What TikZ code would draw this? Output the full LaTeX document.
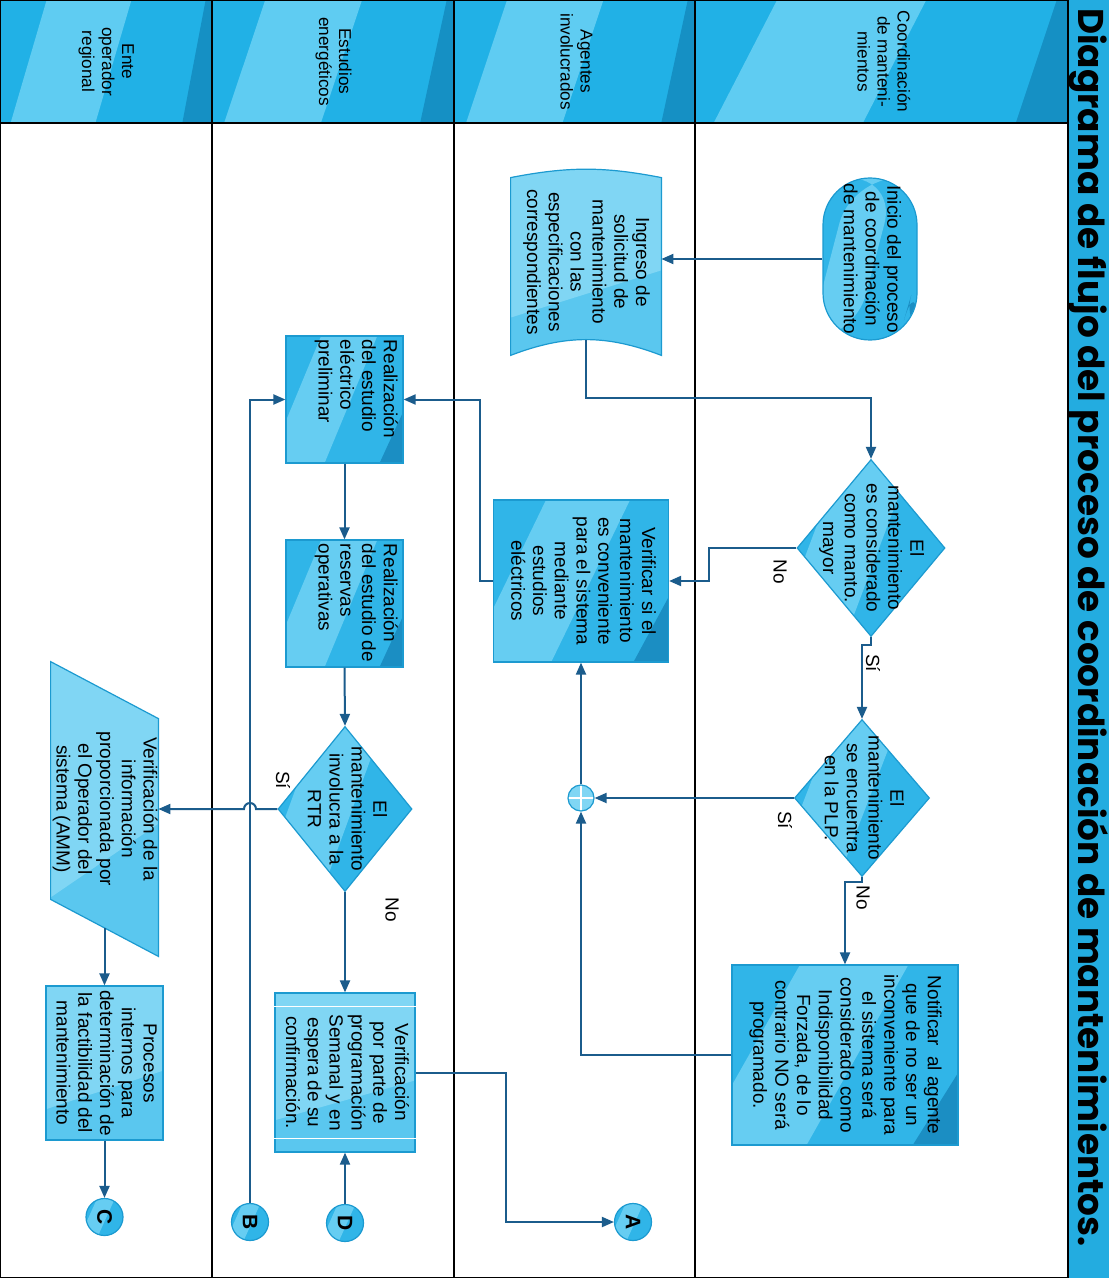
\documentclass[tikz,border=0pt]{standalone}
\usepackage{fontspec}
\setmainfont{Liberation Sans}
\newfontfamily\titlefont{Poppins}
\usetikzlibrary{arrows.meta,calc,shapes.geometric}

\definecolor{titlecyan}{HTML}{23ACE0}
\definecolor{lanecyan}{HTML}{21B1E6}
\definecolor{lanelight}{HTML}{5FCCF2}
\definecolor{lanedark}{HTML}{1590C4}
\definecolor{boxcyan}{HTML}{30B5E8}
\definecolor{boxlight}{HTML}{66CDF2}
\definecolor{boxdark}{HTML}{1B8EC3}
\definecolor{flatcyan}{HTML}{5AC7EF}
\definecolor{flatlight}{HTML}{80D6F4}
\definecolor{boxline}{HTML}{1C9AD0}
\definecolor{flowline}{HTML}{1B5C8C}

\newcommand{\vlines}[1]{\rotatebox{-90}{\begin{tabular}{@{}c@{}}#1\end{tabular}}}
\newcommand{\vlinesl}[1]{\rotatebox{-90}{\begin{tabular}{@{}l@{}}#1\end{tabular}}}

\tikzset{
  glossbox/.style={draw=boxline, line width=0.6pt, fill=boxcyan,
    path picture={
      \coordinate (tl) at (path picture bounding box.north west);
      \coordinate (tr) at (path picture bounding box.north east);
      \coordinate (bl) at (path picture bounding box.south west);
      \coordinate (br) at (path picture bounding box.south east);
      \fill[boxlight] ($(tl)!0.30!(tr)$) -- ($(tl)!0.78!(tr)$) -- ($(bl)!0.33!(br)$) -- ($(bl)!-0.15!(br)$) -- cycle;
      \fill[boxdark] ($(bl)!0.80!(br)$) -- (br) -- ($(br)!0.40!(tr)$) -- cycle;
    }},
  glossflat/.style={draw=boxline, line width=0.6pt, fill=flatcyan,
    path picture={
      \coordinate (tl) at (path picture bounding box.north west);
      \coordinate (tr) at (path picture bounding box.north east);
      \coordinate (bl) at (path picture bounding box.south west);
      \coordinate (br) at (path picture bounding box.south east);
      \fill[flatlight] (tl) -- (tr) -- ($(tr)!0.55!(br)$) -- ($(tl)!0.80!(bl)$) -- cycle;
    }},
  lanehead/.style={rectangle, minimum height=61.5pt, fill=lanecyan, font=\fontsize{8.6}{10}\selectfont,
    path picture={
      \coordinate (tl) at (path picture bounding box.north west);
      \coordinate (tr) at (path picture bounding box.north east);
      \coordinate (bl) at (path picture bounding box.south west);
      \coordinate (br) at (path picture bounding box.south east);
      \fill[lanelight] ($(tl)!0.22!(tr)$) -- ($(tl)!0.62!(tr)$) -- ($(bl)!0.45!(br)$) -- ($(bl)!0.05!(br)$) -- cycle;
      \fill[lanedark] ($(tl)!0.97!(tr)$) -- (tr) -- (br) -- ($(bl)!0.86!(br)$) -- cycle;
    }},
  conector/.style={circle, glossbox, minimum size=18.5pt, font=\bfseries\fontsize{10.5}{12}\selectfont},
  junction/.style={circle, draw=boxline, line width=0.6pt, fill=flatlight, minimum size=13pt,
    path picture={
      \draw[white, line width=1.2pt] (path picture bounding box.north) -- (path picture bounding box.south)
        (path picture bounding box.west) -- (path picture bounding box.east);
    }},
  flow/.style={draw=flowline, line width=1pt, -{Triangle[length=6pt, width=5pt]}},
  lane/.style={draw=black, line width=0.8pt}
}

\begin{document}
\begin{tikzpicture}[x=0.5pt, y=-0.5pt,
  every node/.style={font=\fontsize{9.5}{10.9}\selectfont, inner sep=0pt}]
  \useasboundingbox (0,0) rectangle (1109,1278);
  \fill[white] (0,0) rectangle (1109,1278);

  % titulo
  \fill[titlecyan] (1068,0) rectangle (1109,1278);
  \node[anchor=north] (titulo) at (1088.5,8) {\rotatebox{-90}{\titlefont\bfseries\fontsize{17.9}{20}\selectfont Diagrama de flujo del proceso de coordinación de mantenimientos.}};

  % carriles
  \node[lanehead, minimum width=106pt] (hente) at (106,61.5) {\vlines{Ente\\operador\\regional}};
  \node[lanehead, minimum width=121pt] (hestudios) at (333,61.5) {\vlines{Estudios\\energéticos}};
  \node[lanehead, minimum width=120.5pt] (hagentes) at (574.5,61.5) {\vlines{Agentes\\involucrados}};
  \node[lanehead, minimum width=186.5pt] (hcoord) at (881.5,61.5) {\vlines{Coordinación\\de manteni-\\mientos}};
  \draw[lane] (0,0) rectangle (1068,1278);
  \draw[lane] (0,123) -- (1068,123);
  \draw[lane] (212,0) -- (212,1278) (454,0) -- (454,1278) (695,0) -- (695,1278);

  % coordinacion de mantenimientos
  \node[glossbox, rounded corners=23.5pt, minimum width=47pt, minimum height=81pt] (inicio) at (870,259) {\vlines{Inicio del proceso\\de coordinación\\de mantenimiento}};
  \node[glossbox, diamond, minimum width=74pt, minimum height=88.5pt,
    label={center:\vlines{El\\mantenimiento\\es considerado\\como manto.\\mayor}}] (decmayor) at (871,548) {};
  \node[glossbox, diamond, minimum width=67.5pt, minimum height=78.5pt,
    label={center:\vlines{El\\mantenimiento\\se encuentra\\en la PLP.}}] (decplp) at (862,798) {};
  \node[glossbox, minimum width=113pt, minimum height=90pt] (notificar) at (845,1055) {\vlines{Notificar~~al agente\\que de no ser un\\inconveniente para\\el sistema será\\considerado como\\Indisponibilidad\\Forzada, de lo\\contrario NO será\\programado.}};

  % agentes involucrados
  \node[minimum width=75pt, minimum height=88.5pt] (ingreso) at (586,266.5) {};
  \path[glossflat] (ingreso.north west) to[bend left=11] (ingreso.north east) -- (ingreso.south east)
    to[bend right=21] (ingreso.south west) -- cycle;
  \node (ingresotexto) at (586,262) {\vlines{Ingreso de\\solicitud de\\mantenimiento\\con las\\especificaciones\\correspondientes}};
  \node[glossbox, minimum width=87.5pt, minimum height=81pt] (verificar) at (581,581) {\vlines{Verificar si el\\mantenimiento\\es conveniente\\para el sistema\\mediante\\estudios\\eléctricos}};
  \node[junction] (union) at (581,798) {};
  \node[conector] (conA) at (633,1222) {\rotatebox{-90}{A}};

  % estudios energeticos
  \node[glossbox, minimum width=58.5pt, minimum height=63.5pt,
    label={[anchor=north east, xshift=-2pt, yshift=-2pt]north east:\vlinesl{Realización\\del estudio\\eléctrico\\preliminar}}] (preliminar) at (344.5,399.5) {};
  \node[glossbox, minimum width=58.5pt, minimum height=63.5pt,
    label={[anchor=north east, xshift=-2pt, yshift=-2pt]north east:\vlinesl{Realización\\del estudio de\\reservas\\operativas}}] (reservas) at (344.5,603.5) {};
  \node[glossbox, diamond, minimum width=67pt, minimum height=82.5pt,
    label={center:\vlines{El\\mantenimiento\\involucra a la\\RTR}}] (decrtr) at (345,809) {};
  \node[glossflat, minimum width=70pt, minimum height=79.5pt] (programacion) at (345,1072.5) {\vlines{Verificación\\por parte de\\programación\\Semanal y en\\espera de su\\confirmación.}};
  \draw[white, line width=0.8pt] ([yshift=-7pt]programacion.north west) -- ([yshift=-7pt]programacion.north east)
    ([yshift=7pt]programacion.south west) -- ([yshift=7pt]programacion.south east);
  \node[conector] (conD) at (345,1223) {\rotatebox{-90}{D}};
  \node[conector] (conB) at (250,1222) {\rotatebox{-90}{B}};

  % ente operador regional
  \node[minimum width=53.5pt, minimum height=147pt] (verinfo) at (104.5,809) {};
  \path[glossflat] (verinfo.north west) -- ([yshift=-28.5pt]verinfo.north east) -- (verinfo.south east)
    -- ([yshift=28.5pt]verinfo.south west) -- cycle;
  \node (verinfotexto) at (104.5,809) {\vlines{Verificación de la\\información\\proporcionada por\\el Operador del\\sistema (AMM)}};
  \node[glossflat, minimum width=58.5pt, minimum height=77pt] (procesos) at (104.5,1063) {\vlines{Procesos\\internos para\\determinación de\\la factibilidad del\\mantenimiento}};
  \node[conector] (conC) at (104.5,1217) {\rotatebox{-90}{C}};

  % conectores
  \draw[flow] (inicio.west) -- (inicio.west -| ingreso.east);
  \draw[flow] ([yshift=7.5pt]ingreso.south) -- ++(0,58) -| (decmayor.north);
  \draw[flow] (decmayor.west) -- ++(-87,0) |- (verificar.east);
  \draw[flow] (decmayor.south) -- ++(0,8) -| (decplp.north);
  \draw[flow] (decplp.west) -- (union.east);
  \draw[flow] (decplp.south) -- ++(0,5) -| (notificar.north);
  \draw[flow] (notificar.west) -| (union.south);
  \draw[flow] (union.north) -- (verificar.south);
  \draw[flow] (verificar.west) -- ++(-13,0) |- (preliminar.east);
  \draw[flow] (preliminar.south) -- (reservas.north);
  \draw[flow] (reservas.south) -- (decrtr.north);
  \draw[flow] (decrtr.west) -- ($(decrtr.west -| conB.north)+(6,0)$) arc[start angle=0, end angle=180, radius=3pt] -- (verinfo.east);
  \draw[flow] (decrtr.south) -- (programacion.north);
  \draw[flow] (conD.north) -- (programacion.south);
  \draw[flow] (programacion.east) -- ++(90,0) |- (conA.west);
  \draw[flow] (conB.north) |- (preliminar.west);
  \draw[flow] ([yshift=14.25pt]verinfo.south) -- (procesos.north);
  \draw[flow] (procesos.south) -- (conC.north);

  % etiquetas
  \node (nomayor) at (780,572) {\rotatebox{-90}{No}};
  \node (simayor) at (873,663) {\rotatebox{-90}{Sí}};
  \node (siplp) at (785,820) {\rotatebox{-90}{Sí}};
  \node (noplp) at (863,898) {\rotatebox{-90}{No}};
  \node (sirtr) at (283,780) {\rotatebox{-90}{Sí}};
  \node (nortr) at (392,910) {\rotatebox{-90}{No}};
\end{tikzpicture}
\end{document}
